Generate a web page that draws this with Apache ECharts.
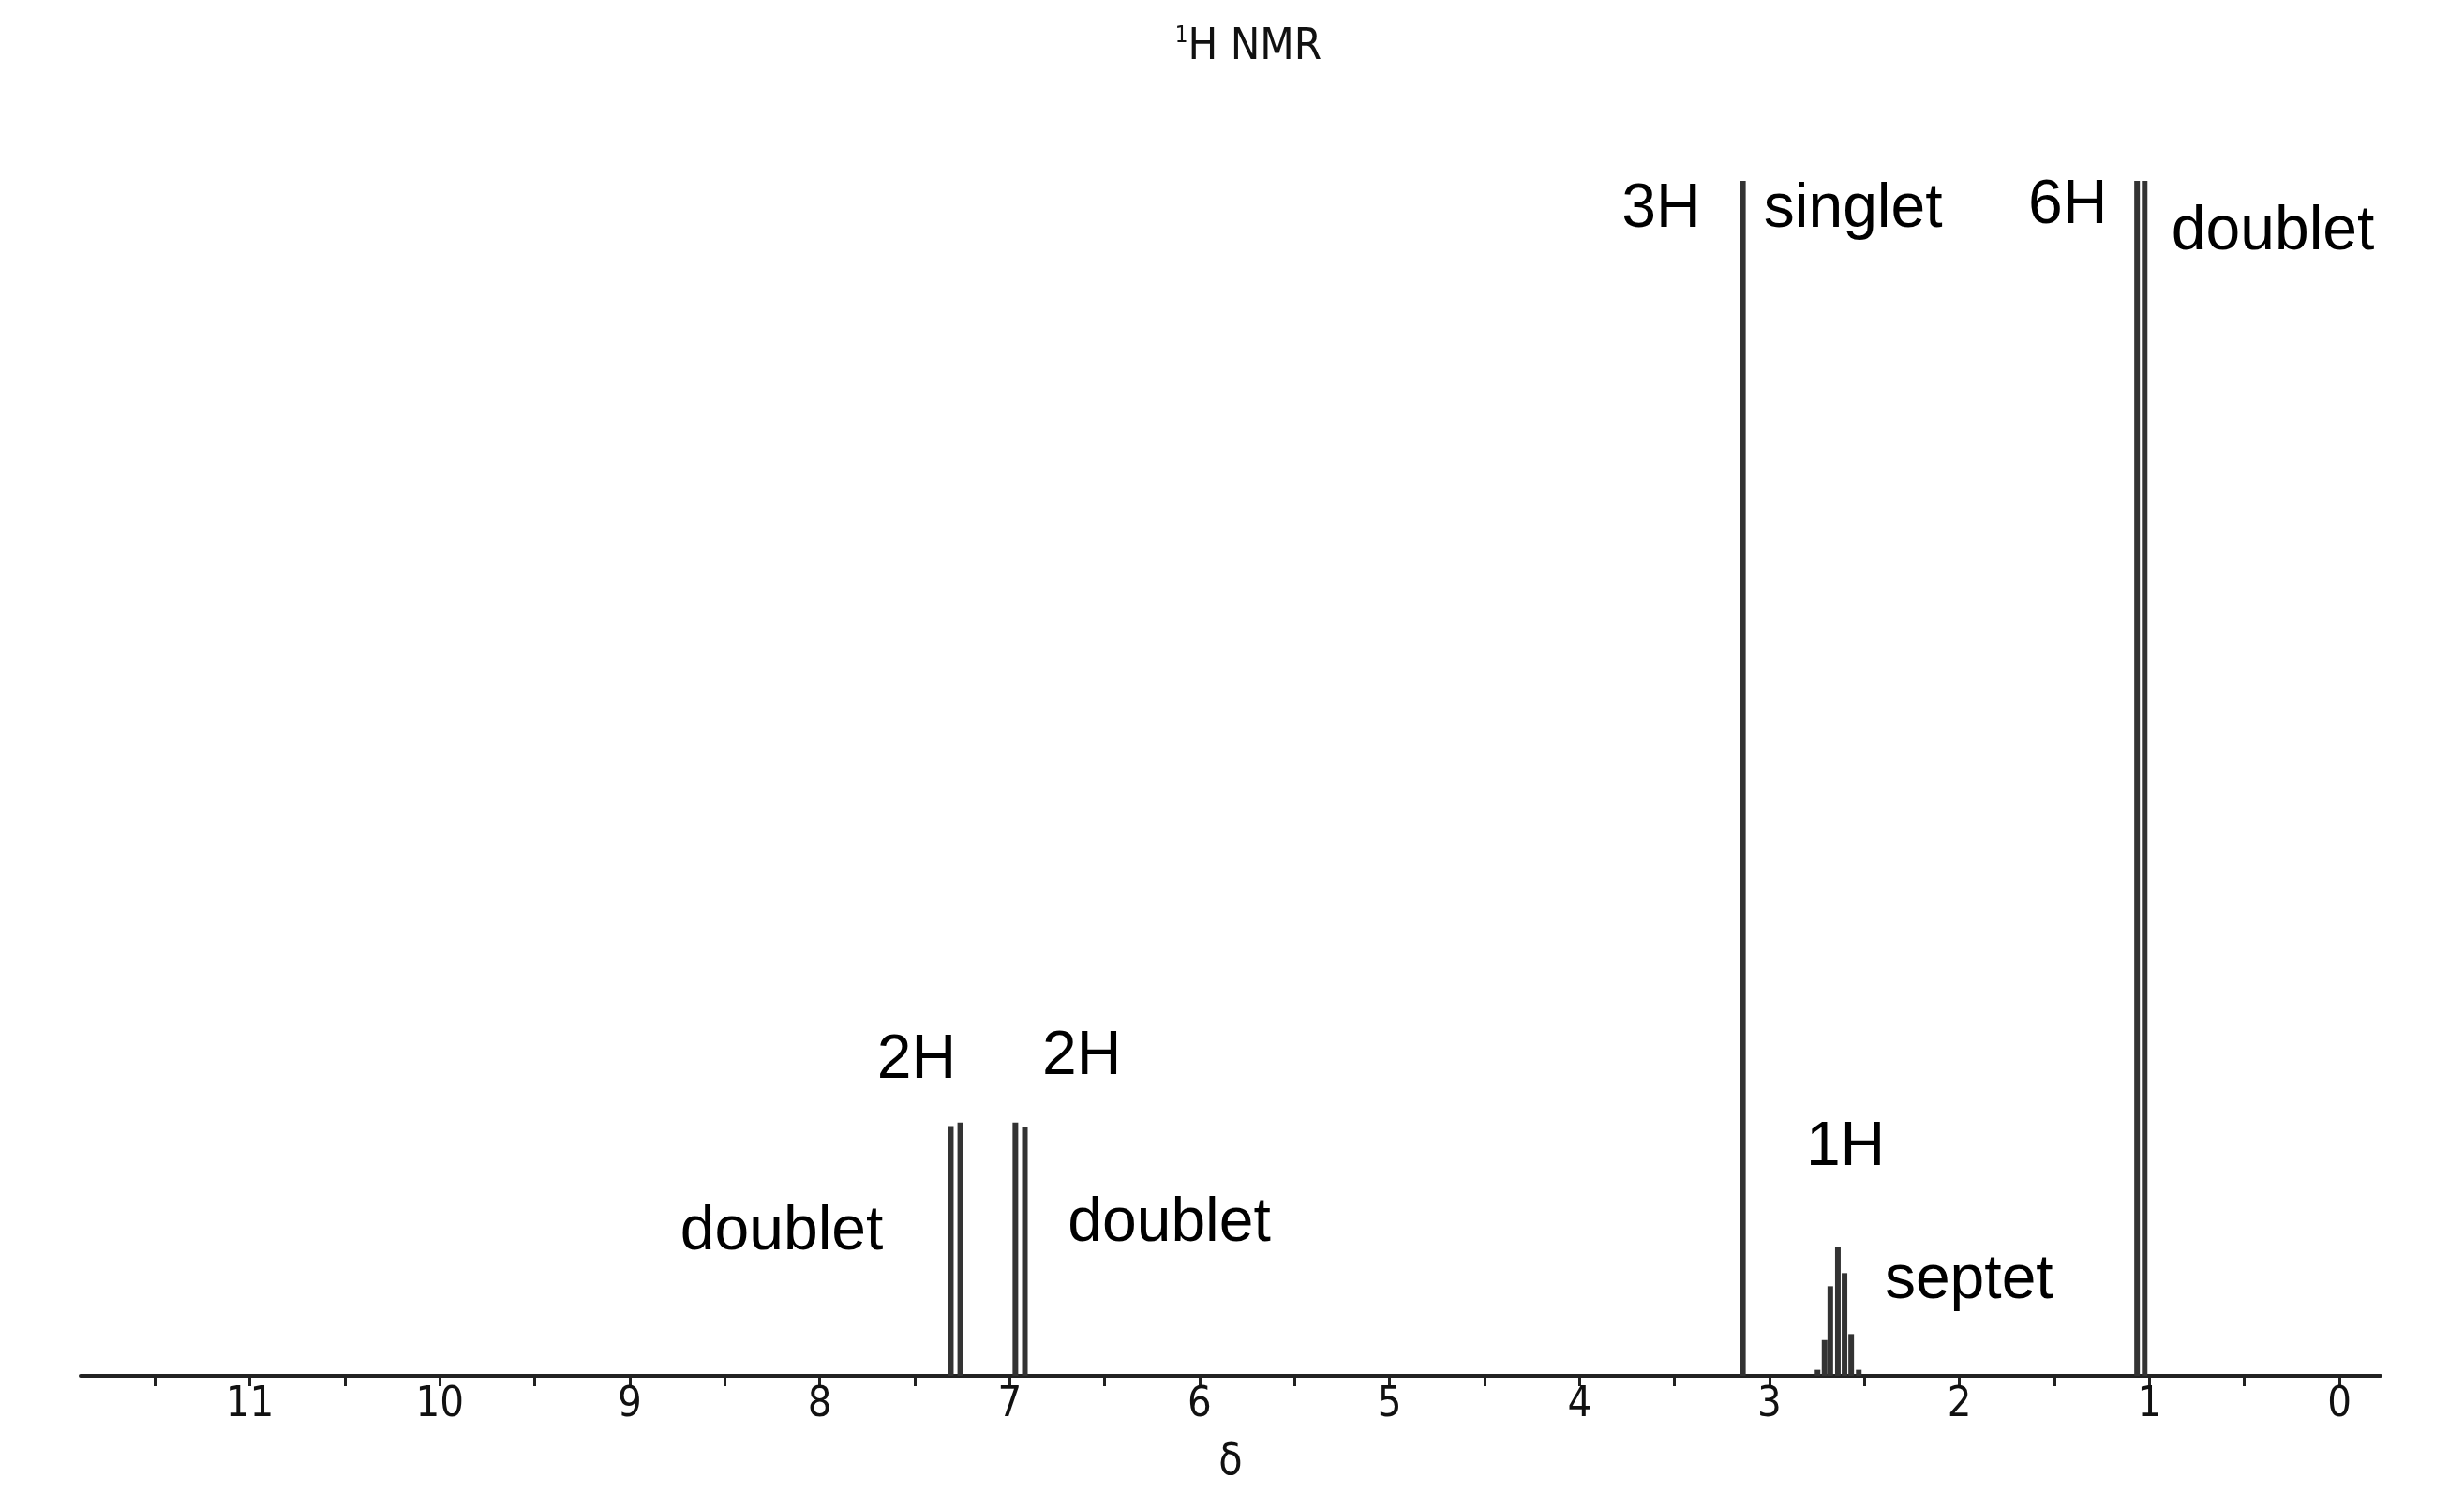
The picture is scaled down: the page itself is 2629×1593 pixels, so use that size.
<!DOCTYPE html>
<html>
<head>
<meta charset="utf-8">
<script src="https://cdn.jsdelivr.net/npm/echarts@6/dist/echarts.min.js"></script>
<style>html,body{margin:0;padding:0;background:#fff}#c{width:2629px;height:1593px}</style>
</head>
<body>
<div id="c"></div>
<script>
// Peak positions (δ, ppm) and relative heights (% of tallest)
const peakShifts  = [7.31, 7.26, 6.97, 6.92, 3.14, 2.747, 2.71, 2.68, 2.64, 2.605, 2.57, 2.53, 1.065, 1.025];
const peakHeights = [20.9, 21.2, 21.2, 20.8, 100, 0.5, 3.0, 7.5, 10.8, 8.6, 3.5, 0.5, 100, 100];

// Tick labels
const tickLabels = [0, 1, 2, 3, 4, 5, 6, 7, 8, 9, 10, 11];
const tickMarks  = [0, 0.5, 1, 1.5, 2, 2.5, 3, 3.5, 4, 4.5, 5, 5.5, 6, 6.5, 7, 7.5, 8, 8.5, 9, 9.5, 10, 10.5, 11, 11.5];

// Annotations
const noteTexts   = ['3H', 'singlet', '6H', 'doublet', '2H', '2H', 'doublet', 'doublet', '1H', 'septet'];
const noteShifts  = [3.57, 2.56, 1.43, 0.35, 7.49, 6.62, 8.20, 6.16, 2.60, 1.95];
const noteHeights = [97.6, 97.6, 97.9, 95.7, 26.4, 26.7, 12.0, 12.7, 19.1, 7.9];

const narrow = "'DejaVu Sans Condensed', 'Liberation Sans Narrow', 'Arial Narrow', sans-serif";

const chart = echarts.init(document.getElementById('c'));
chart.setOption({
  animation: false,
  backgroundColor: '#ffffff',
  title: {
    text: '{s|1}H NMR',
    left: 1327, top: 22, textAlign: 'center',
    textStyle: {
      fontFamily: narrow, fontSize: 47, fontWeight: 'normal', color: '#111',
      rich: { s: { fontFamily: narrow, fontSize: 24, verticalAlign: 'top', padding: [0, 0, 18, 0], color: '#111' } }
    }
  },
  grid: { left: 86, right: 89, top: 193, bottom: 125 },
  xAxis: {
    type: 'value', inverse: true, min: -0.217, max: 11.891,
    name: 'δ', nameLocation: 'middle', nameGap: 70,
    nameTextStyle: { fontFamily: narrow, fontSize: 46, color: '#111' },
    splitLine: { show: false },
    axisLine: { show: true, onZero: false, lineStyle: { color: '#222', width: 4 } },
    axisTick: { show: true, customValues: tickMarks, length: 11, lineStyle: { color: '#222', width: 3 } },
    axisLabel: { customValues: tickLabels, margin: 9, fontFamily: narrow, fontSize: 45, color: '#111' }
  },
  yAxis: { type: 'value', min: 0, max: 100, show: false },
  series: [
    {
      type: 'bar',
      barWidth: 6,
      itemStyle: { color: '#333' },
      data: peakShifts.map((x, i) => [x, peakHeights[i]]),
      z: 3
    },
    {
      type: 'scatter',
      symbolSize: 0,
      silent: true,
      itemStyle: { color: '#000' },
      label: {
        show: true, position: 'inside', formatter: p => p.name,
        fontFamily: "'Liberation Sans', Arial, sans-serif", fontSize: 66, color: '#000',
        textBorderWidth: 0, opacity: 1
      },
      data: noteTexts.map((t, i) => ({ name: t, value: [noteShifts[i], noteHeights[i]] }))
    }
  ]
});
</script>
</body>
</html>
